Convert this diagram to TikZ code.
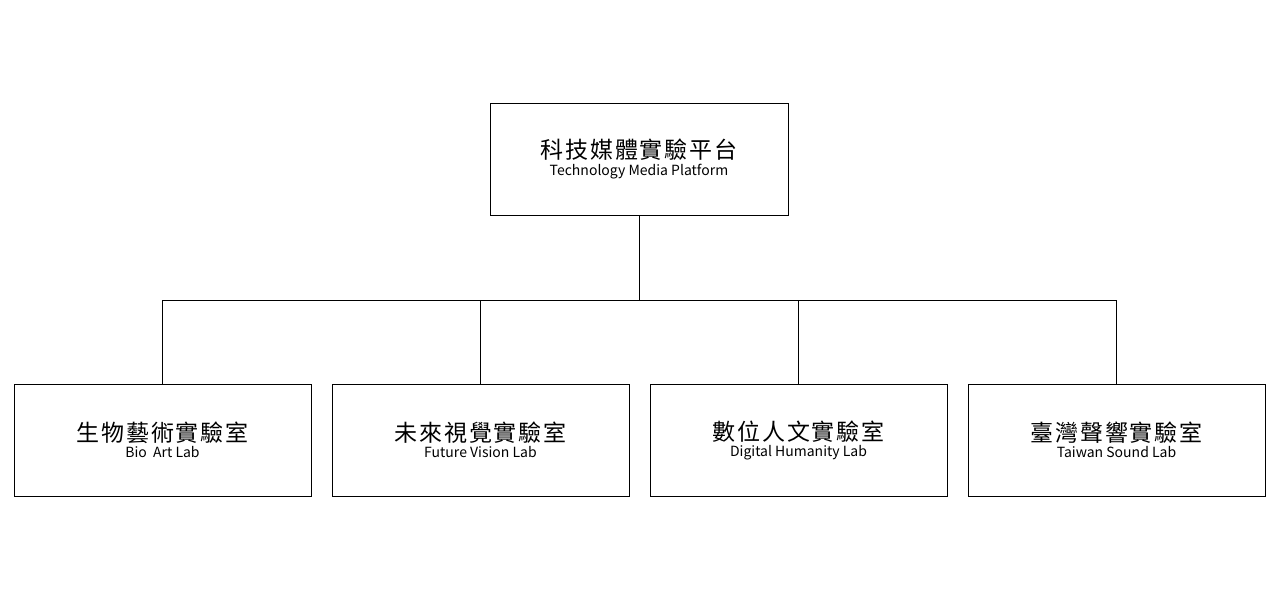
\documentclass[tikz,border=0pt]{standalone}
\usepackage{fontspec}
\setmainfont{Noto Sans CJK TC}
\usetikzlibrary{positioning}
\tikzset{
every node/.style={draw,thin,minimum width=297pt,minimum height=112pt,align=center,inner sep=0pt},
labbox/.style= {rectangle, fill=white},
bus/.style= {thin,black}
}
\newcommand{\zh}[1]{{\fontsize{23pt}{26pt}\selectfont\addfontfeature{LetterSpace=8}#1}}
\newcommand{\en}[1]{{\fontsize{14pt}{17pt}\selectfont #1}}

\begin{document}
\begin{tikzpicture}[x=1pt,y=-1pt]
\useasboundingbox (0,0) rectangle (1280,600);

% platform and its labs
\node[labbox, minimum width=298pt] (root) at (639,159) {\zh{科技媒體實驗平台}\\[2pt]\en{Technology Media Platform}};
\node[labbox] (bio) at (162.5,440) {\zh{生物藝術實驗室}\\[2pt]\en{Bio\ \ Art Lab}};
\node[labbox] (fut) at (480.5,440) {\zh{未來視覺實驗室}\\[2pt]\en{Future Vision Lab}};
\node[labbox] (dig) at (798.5,440) {\zh{數位人文實驗室}\\[2pt]\en{Digital Humanity Lab}};
\node[labbox] (tw) at (1116.5,440) {\zh{臺灣聲響實驗室}\\[2pt]\en{Taiwan Sound Lab}};

\coordinate (hub) at (639,300);
\draw[bus] (root) -- (hub);
\draw[bus] (bio.north) |- (tw.north |- hub) -- (tw.north);
\draw[bus] (fut.north) -- (fut.north |- hub);
\draw[bus] (dig.north) -- (dig.north |- hub);

\end{tikzpicture}
\end{document}
